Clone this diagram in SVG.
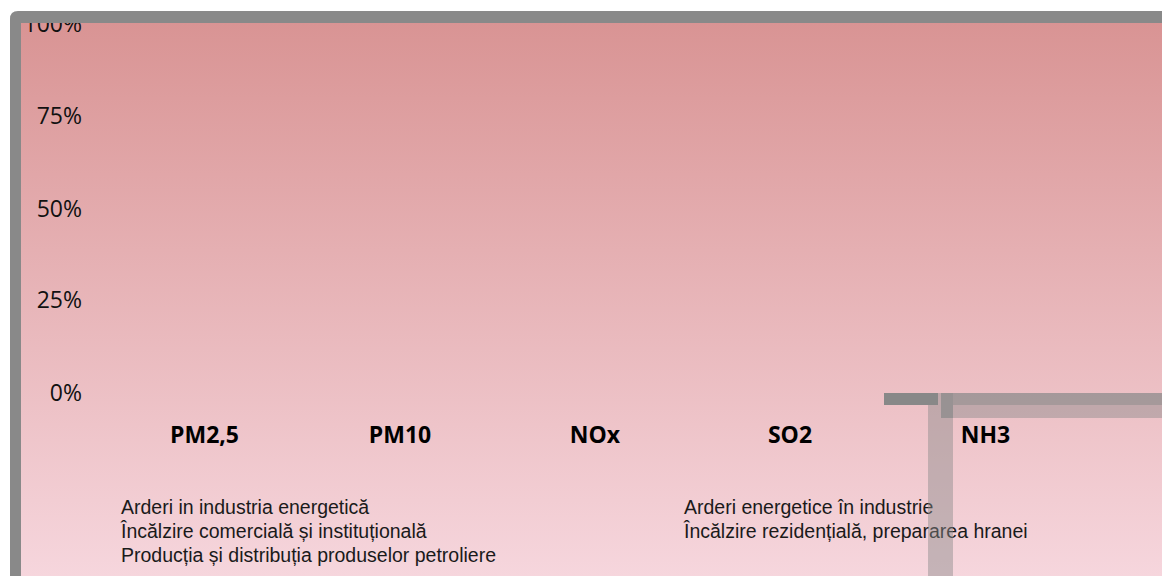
<svg xmlns="http://www.w3.org/2000/svg" width="1162" height="576" viewBox="0 0 1162 576">
<defs>
<linearGradient id="bg" x1="0" y1="0" x2="0" y2="1">
<stop offset="0" stop-color="#d99494"/>
<stop offset="1" stop-color="#f6d6dd"/>
</linearGradient>
<clipPath id="plot"><rect x="21" y="23" width="1141" height="553"/></clipPath>
</defs>
<style>
.ax{font-family:"Open Sans","Liberation Sans",sans-serif;font-size:23px;fill:#111;text-anchor:end}
.cat{font-family:"Open Sans","Liberation Sans",sans-serif;font-size:23px;font-weight:bold;fill:#000;text-anchor:middle}
.leg{font-family:"Liberation Sans",Arial,sans-serif;font-size:19.5px;fill:#1a1a1a}
</style>
<g id="frame">
<path d="M10 576 V19 Q10 11 18 11 H1162 V576 Z" fill="#898989"/>
<rect x="21" y="23" width="1141" height="553" fill="url(#bg)"/>
</g>
<g id="axis" clip-path="url(#plot)">
<text class="ax" x="82" y="32">100%</text>
<text class="ax" x="82" y="124">75%</text>
<text class="ax" x="82" y="217">50%</text>
<text class="ax" x="82" y="308">25%</text>
<text class="ax" x="82" y="401">0%</text>
</g>
<g id="categories">
<text class="cat" x="204.5" y="443">PM2,5</text>
<text class="cat" x="400" y="443">PM10</text>
<text class="cat" x="595" y="443">NOx</text>
<text class="cat" x="790" y="443">SO2</text>
<text class="cat" x="985.5" y="443">NH3</text>
</g>
<g id="legend-left">
<text class="leg" x="121" y="514">Arderi in industria energetică</text>
<text class="leg" x="121" y="538">Încălzire comercială și instituțională</text>
<text class="leg" x="121" y="562">Producția și distribuția produselor petroliere</text>
</g>
<g id="legend-right">
<text class="leg" x="684" y="514">Arderi energetice în industrie</text>
<text class="leg" x="684" y="538">Încălzire rezidențială, prepararea hranei</text>
</g>
<g id="nh3-shapes">
<rect x="928" y="393" width="25" height="183" fill="#8a8a8a" fill-opacity="0.45"/>
<rect x="941" y="393" width="221" height="25" fill="#8a8a8a" fill-opacity="0.45"/>
<path d="M941 418 V393 H1162 V405 H953 V418 Z" fill="#8a8a8a" fill-opacity="0.5"/>
<rect x="884" y="393" width="54" height="12" fill="#888888"/>
</g>
</svg>
